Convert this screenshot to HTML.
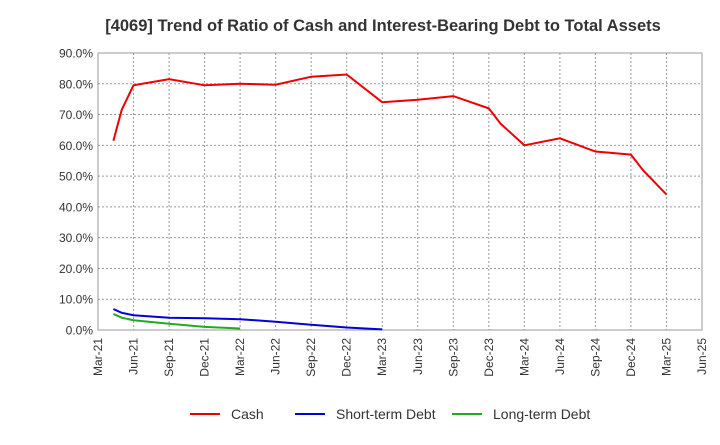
<!DOCTYPE html>
<html><head><meta charset="utf-8"><style>
body{margin:0;background:#fff;font-family:"Liberation Sans",sans-serif}
</style></head><body>
<svg id="c" width="720" height="440" xmlns="http://www.w3.org/2000/svg" font-family="Liberation Sans, sans-serif"></svg>
<script>
const xTicks=["Mar-21","Jun-21","Sep-21","Dec-21","Mar-22","Jun-22","Sep-22","Dec-22","Mar-23","Jun-23","Sep-23","Dec-23","Mar-24","Jun-24","Sep-24","Dec-24","Mar-25","Jun-25"];
const yTicks=[0,10,20,30,40,50,60,70,80,90];
const cashMonths=[1.3,2,3,6,9,12,15,18,21,24,27,30,33,34,36,39,42,45,46,48];
const cashValues=[61.5,71.5,79.5,81.5,79.5,80,79.7,82.3,83,74,74.8,76,72,67,60,62.3,58,57,52,44];
const stMonths=[1.3,2,3,6,9,12,15,18,21,24];
const stValues=[6.8,5.6,4.8,4,3.8,3.5,2.7,1.7,0.8,0.2];
const ltMonths=[1.3,2,3,6,9,12];
const ltValues=[5.2,4,3.2,2,1,0.5];
const svg=document.getElementById('c');const NS='http://www.w3.org/2000/svg';
const L=98,R=702,T=53,B=330;
const xs=m=>L+m*(R-L)/51;const ys=v=>B-v*(B-T)/90;
function mk(t,a,txt){const e=document.createElementNS(NS,t);for(const k in a)e.setAttribute(k,a[k]);if(txt!==undefined)e.textContent=txt;svg.appendChild(e);return e;}
let e=mk('text',{x:383,y:31,'text-anchor':'middle','font-size':16.5,'font-weight':'bold',fill:'#333'},'[4069]  Trend of Ratio of Cash and Interest-Bearing Debt to Total Assets');

e=mk('rect',{x:L,y:T,width:R-L,height:B-T,fill:'#fff',stroke:'#999'});

yTicks.forEach(v=>{const y=ys(v);
if(v>0){e=mk('line',{x1:L,x2:R,y1:y,y2:y,stroke:'#999','stroke-dasharray':'2,2'});}
e=mk('text',{x:L-5,y:y+4.5,'text-anchor':'end','font-size':12,fill:'#333'},v.toFixed(1)+'%');});
xTicks.forEach((t,i)=>{const x=xs(i*3);
if(i>0&&i<xTicks.length-1){e=mk('line',{x1:x,x2:x,y1:T,y2:B,stroke:'#999','stroke-dasharray':'2,2'});}
e=mk('text',{x:x+4,y:B+8,'text-anchor':'end','font-size':12,fill:'#333',transform:`rotate(-90 ${x+4} ${B+8})`},t);});
function line(ms,vs,c,n){const p=ms.map((m,i)=>xs(m).toFixed(1)+','+ys(vs[i]).toFixed(1)).join(' ');
e=mk('polyline',{points:p,fill:'none',stroke:c,'stroke-width':2});}
line(cashMonths,cashValues,'#e00','cash-line');
line(stMonths,stValues,'#00d','short-term-debt-line');
line(ltMonths,ltValues,'#2a2','long-term-debt-line');
const leg=[['Cash','#e00',190],['Short-term Debt','#00d',295],['Long-term Debt','#2a2',452]];
leg.forEach(([t,c,x])=>{e=mk('line',{x1:x,x2:x+30,y1:414,y2:414,stroke:c,'stroke-width':2});
e=mk('text',{x:x+41,y:419,'font-size':14,fill:'#333'},t);});
</script>
</body></html>
